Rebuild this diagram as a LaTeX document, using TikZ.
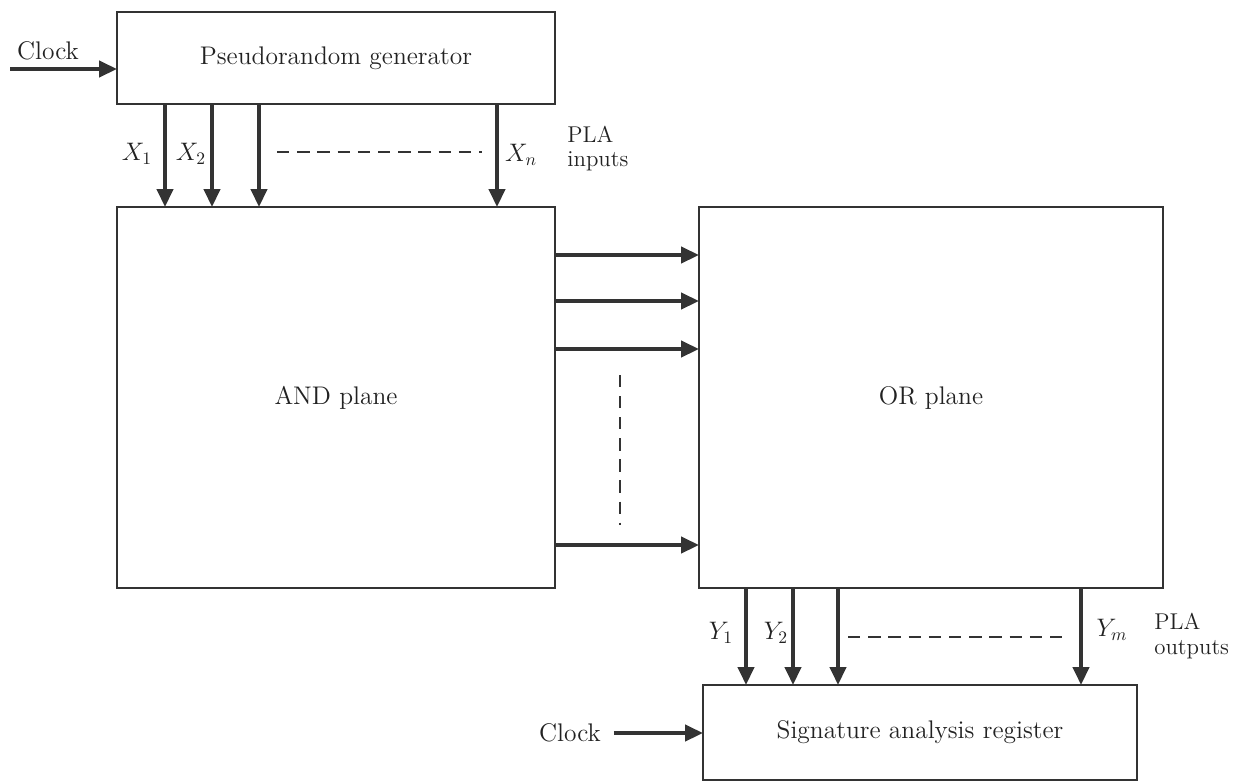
\documentclass[tikz,border=0pt]{standalone}
\usetikzlibrary{arrows.meta}
\definecolor{ink}{HTML}{333333}
\definecolor{txt}{HTML}{222222}
\begin{document}
\begin{tikzpicture}[x=0.02cm,y=-0.02cm,
  box/.style={draw=ink,line width=1.1pt,rectangle,outer sep=0pt,inner sep=0pt,text=txt,font=\fontsize{14.5}{17}\selectfont},
  arr/.style={draw=ink,line width=2.3pt,-{Triangle[length=0.36cm,width=0.32cm]}},
  lbl/.style={font=\fontsize{14.5}{17}\selectfont,inner sep=1pt,text=txt},
  pla/.style={font=\fontsize{13}{15}\selectfont,inner sep=0pt,text=txt,align=left,anchor=west},
  dsh/.style={draw=ink,line width=1.1pt,dash pattern=on 7pt off 4.5pt}]
\useasboundingbox (0,0) rectangle (1239,782);
\fill[white] (0,0) rectangle (1239,782);
% boxes
\node[box,minimum width=8.76cm,minimum height=1.84cm] (prg) at (336,58) {Pseudorandom generator};
\node[box,minimum width=8.76cm,minimum height=7.62cm] (and) at (336,397.5) {AND plane};
\node[box,minimum width=9.28cm,minimum height=7.62cm] (or) at (931,397.5) {OR plane};
\node[box,minimum width=8.68cm,minimum height=1.9cm] (sig) at (920,732.5) {Signature analysis register};
% clock inputs
\node[lbl] (clk1) at (48,51) {Clock};
\coordinate (c1) at (10,69);
\draw[arr] (c1) -- (c1 -| prg.west);
\node[lbl] (clk2) at (570,733) {Clock};
\draw[arr] ([xshift=0.22cm]clk2.east) -- (clk2.east -| sig.west);
% PLA inputs
\foreach \n/\x in {x1/165,x2/212,x3/259,xn/497}{
  \coordinate (\n) at (\x,0);
  \draw[arr] (\n |- prg.south) -- (\n |- and.north);
}
\node[lbl] (lx1) at (137,154) {$X_1$};
\node[lbl] (lx2) at (191,154) {$X_2$};
\node[lbl] (lxn) at (521,155) {$X_n$};
\draw[dsh] (277,152) -- (482,152);
\node[pla] (pin) at (567,148.5) {PLA\\[-1pt]inputs};
% product terms
\foreach \n/\y in {p1/255,p2/301,p3/349,p4/545}{
  \coordinate (\n) at (0,\y);
  \draw[arr] (\n -| and.east) -- (\n -| or.west);
}
\draw[dsh,dash pattern=on 7pt off 5pt] (620,375) -- (620,525);
% PLA outputs
\foreach \n/\x in {y1/746,y2/793,y3/838,ym/1081}{
  \coordinate (\n) at (\x,0);
  \draw[arr] (\n |- or.south) -- (\n |- sig.north);
}
\node[lbl] (ly1) at (721,633) {$Y_1$};
\node[lbl] (ly2) at (776,633) {$Y_2$};
\node[lbl] (lym) at (1112,630) {$Y_m$};
\draw[dsh] (848,637) -- (1070,637);
\node[pla] (pout) at (1154,636) {PLA\\[-1pt]outputs};
\end{tikzpicture}
\end{document}
